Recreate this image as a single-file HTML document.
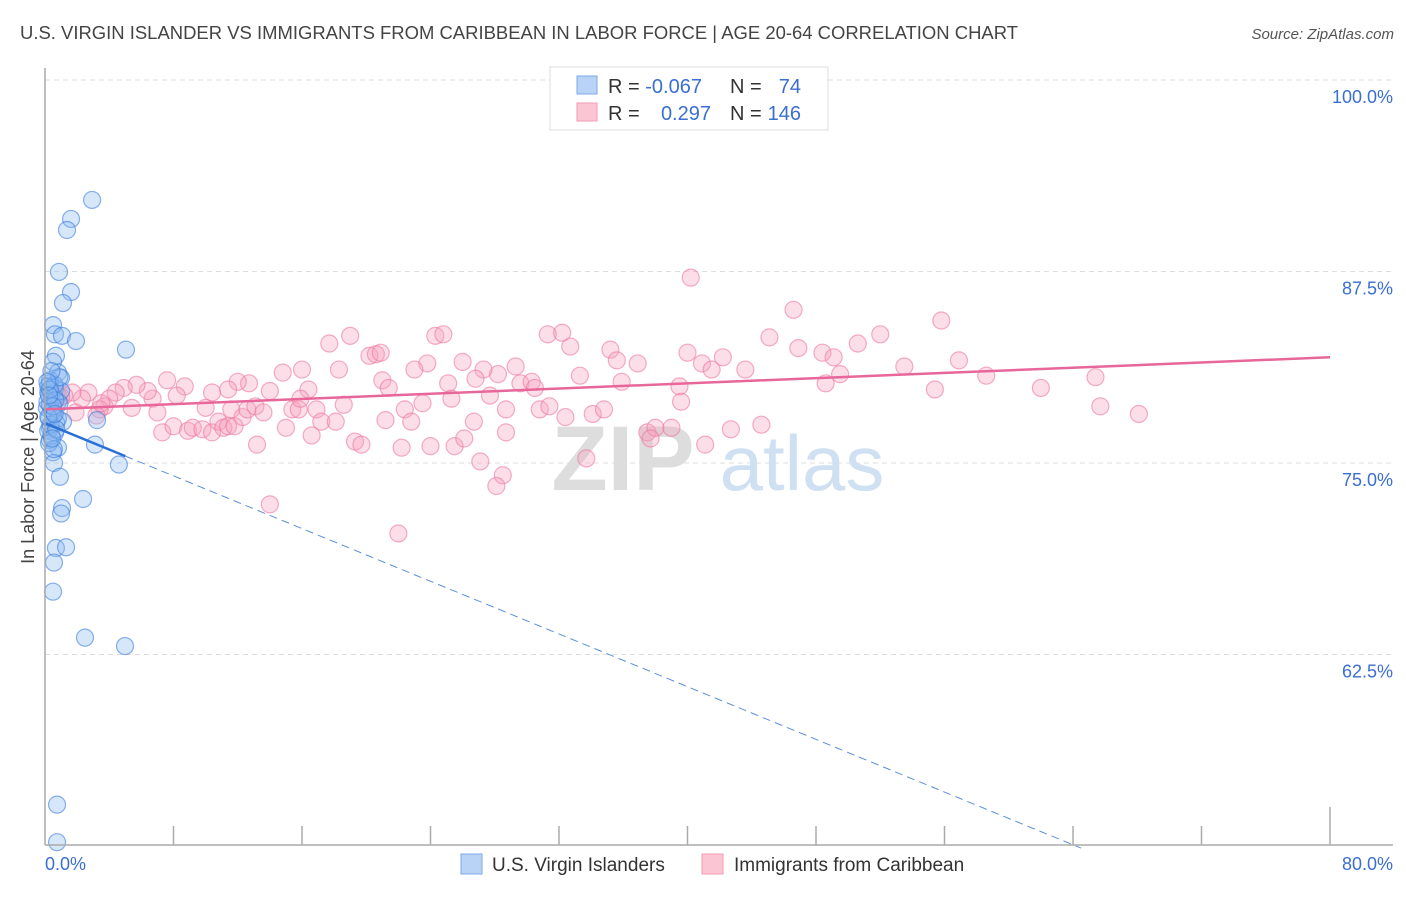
<!DOCTYPE html>
<html><head><meta charset="utf-8"><style>
body{margin:0;background:#fff;font-family:"Liberation Sans",sans-serif;}
svg text{font-family:"Liberation Sans",sans-serif;}
</style></head><body>
<svg id="chart" width="1406" height="892" xmlns="http://www.w3.org/2000/svg">
<text x="20" y="39" font-size="18" fill="#444" textLength="998" lengthAdjust="spacingAndGlyphs">U.S. VIRGIN ISLANDER VS IMMIGRANTS FROM CARIBBEAN IN LABOR FORCE | AGE 20-64 CORRELATION CHART</text>
<text x="1394" y="39" font-size="15" fill="#555" text-anchor="end" font-style="italic">Source: ZipAtlas.com</text>
<g id="grid"></g>
<g id="watermark">
<text x="623" y="490" font-size="92" fill="#ddd" font-family="Liberation Serif" text-anchor="middle" font-weight="bold">ZIP</text>
<text x="802" y="490" font-size="78" fill="#cfe0f3" text-anchor="middle">atlas</text>
</g>
<g id="pts"></g>
<g id="trend"></g>
<g id="axes"></g>
<text transform="translate(34,457) rotate(-90)" font-size="18" fill="#444" text-anchor="middle">In Labor Force | Age 20-64</text>
<g>
<rect x="550" y="67" width="278" height="63" fill="#fff" stroke="#ddd"/>
<rect x="577" y="76" width="20" height="18" fill="#b8d3f5" stroke="#7fa9e6"/>
<rect x="577" y="103" width="20" height="18" fill="#fbc5d4" stroke="#f39ab5"/>
<text x="608" y="93" font-size="20" fill="#333">R = <tspan fill="#3a6fd1">-0.067</tspan></text>
<text x="730" y="93" font-size="20" fill="#333">N = </text><text x="801" y="93" font-size="20" fill="#3a6fd1" text-anchor="end">74</text>
<text x="608" y="120" font-size="20" fill="#333">R = </text><text x="711" y="120" font-size="20" fill="#3a6fd1" text-anchor="end">0.297</text>
<text x="730" y="120" font-size="20" fill="#333">N = </text><text x="801" y="120" font-size="20" fill="#3a6fd1" text-anchor="end">146</text>
</g>
<g>
<rect x="461" y="854" width="21" height="20" fill="#b8d3f5" stroke="#7fa9e6"/>
<text x="492" y="871" font-size="19" fill="#333">U.S. Virgin Islanders</text>
<rect x="702" y="854" width="21" height="20" fill="#fbc5d4" stroke="#f39ab5"/>
<text x="734" y="871" font-size="19" fill="#333">Immigrants from Caribbean</text>
</g>
</svg>
<script>
const blueX=[2.93,1.62,1.37,0.87,1.62,1.12,0.5,0.62,1.06,1.93,5.04,0.68,0.5,0.81,1.0,0.3,0.62,0.2,0.44,0.81,0.12,0.5,0.25,1.12,3.24,0.3,0.62,0.3,3.11,0.81,0.5,0.56,4.6,0.93,2.37,1.06,1.0,0.68,1.31,0.56,0.5,2.49,4.98,0.75,0.75,0.2,0.4,0.6,0.9,0.3,0.5,0.7,0.2,0.4,1.0,0.3,0.6,0.15,0.45,0.8,0.25,0.55,0.35,0.2,0.65,0.9,0.4,0.3,0.5,0.15,0.7,0.45,0.25,0.6];
const blueY=[92.17,90.93,90.21,87.47,86.16,85.44,84.0,83.4,83.3,82.96,82.4,82.0,81.6,80.9,80.55,80.2,79.9,79.6,79.2,79.0,78.6,78.3,77.9,77.7,77.8,77.3,76.95,76.5,76.2,76.0,75.7,75.0,74.9,74.1,72.65,72.06,71.7,69.45,69.5,68.5,66.6,63.6,63.05,52.7,50.25,80.0,79.5,79.3,78.9,78.8,78.1,77.6,77.1,76.8,79.7,80.4,80.1,79.0,78.4,77.9,76.3,75.9,77.5,78.0,79.1,80.6,81.0,79.8,78.7,80.3,77.2,76.6,79.4,78.2];
const pinkX=[40.2,46.6,55.8,19.0,24.3,24.8,31.3,32.2,32.7,45.1,52.0,50.6,40.0,46.9,48.4,49.1,35.2,35.6,36.9,42.2,40.9,41.5,43.6,56.9,53.5,58.6,65.4,62.0,65.7,68.1,55.4,48.6,49.5,39.5,39.6,33.3,35.9,29.3,29.6,30.3,30.5,28.2,27.3,26.8,26.0,25.1,23.8,23.0,21.0,21.4,20.2,20.6,20.9,18.3,17.7,16.4,16.0,14.8,14.0,12.7,12.0,11.4,10.4,10.0,8.7,8.2,7.6,6.7,6.4,5.7,4.9,4.4,4.0,3.7,3.4,3.2,2.7,2.3,1.7,1.2,0.8,1.9,3.5,5.4,7.0,7.3,8.0,8.9,9.2,9.8,10.4,10.8,11.1,11.4,11.8,11.6,12.3,12.6,13.1,13.6,13.2,15.0,15.4,15.8,15.9,16.9,17.2,16.6,18.1,18.6,19.3,19.7,21.2,22.2,22.4,22.8,23.5,24.0,25.5,26.1,25.3,26.7,27.1,27.7,28.5,28.1,28.7,28.7,30.8,31.4,32.4,34.1,34.8,33.7,37.5,38.0,37.7,39.0,41.1,42.7,44.6,14.0,22.0,0.5,1.0,0.3];
const pinkY=[87.1,85.0,84.3,83.3,83.3,83.4,83.4,83.5,82.6,83.2,83.4,82.8,82.2,82.5,82.2,81.9,82.4,81.7,81.5,81.9,81.5,81.1,81.1,81.7,81.3,80.7,80.6,79.9,78.7,78.2,79.8,80.2,80.8,80.0,79.0,80.7,80.3,81.3,80.2,80.3,79.9,80.8,81.1,80.5,81.6,80.2,81.5,81.1,80.4,79.9,82.0,82.1,82.2,81.1,82.8,79.8,81.1,80.9,79.7,80.2,80.3,79.8,79.6,78.6,80.0,79.4,80.4,79.2,79.7,80.1,79.9,79.6,79.2,78.7,78.5,78.1,79.6,79.2,79.6,79.4,79.4,78.3,78.9,78.6,78.3,77.0,77.4,77.1,77.3,77.2,77.0,77.7,77.3,77.4,77.4,78.5,78.0,78.5,78.7,78.3,76.2,77.3,78.5,78.5,79.2,78.5,77.7,76.8,77.7,78.8,76.4,76.2,77.8,76.0,78.5,77.7,78.9,76.1,76.1,76.6,79.2,77.7,75.1,79.4,74.2,73.5,78.5,77.0,78.5,78.7,78.0,78.2,78.5,75.3,77.0,77.3,76.6,77.3,76.2,77.2,77.5,72.3,70.4,79.0,79.3,78.8];
const yTicks=[100,87.5,75,62.5];
const yTickLabels=["100.0%","87.5%","75.0%","62.5%"];
const xTicks=[8,16,24,32,40,48,56,64,72,80];
const xTickLabels=["0.0%","80.0%"];
const pinkTrend=[78.5,0.0425];
const blueTrend=[77.6,-0.43];
const blueSolidEnd=5, blueDashEnd=64.5;

const NS="http://www.w3.org/2000/svg";
const X=v=>45+v/80*1285;
const Y=v=>80+(100-v)/12.5*191.5;
function mk(tag,attrs,parent){const e=document.createElementNS(NS,tag);for(const k in attrs)e.setAttribute(k,attrs[k]);parent.appendChild(e);return e;}
const grid=document.getElementById('grid'),axes=document.getElementById('axes'),pts=document.getElementById('pts'),trend=document.getElementById('trend');
yTicks.forEach((t,i)=>{
 const l=mk('line',{x1:45,x2:1393,y1:Y(t),y2:Y(t),stroke:'#ddd','stroke-dasharray':'5,4'},grid);
 
 
 const tx=mk('text',{x:1393,y:Y(t)+23,'font-size':18,fill:'#3a6fd1','text-anchor':'end'},grid);
 tx.textContent=yTickLabels[i];
 
 
});
const ya=mk('line',{x1:45,x2:45,y1:68,y2:845,stroke:'#aaa','stroke-width':1.5},axes);


const xa=mk('line',{x1:45,x2:1393,y1:845,y2:845,stroke:'#aaa','stroke-width':1.5},axes);


xTicks.forEach(t=>{
 const l=mk('line',{x1:X(t),x2:X(t),y1:t===80?807:826,y2:845,stroke:'#aaa','stroke-width':1.5},axes);
 
 
});
[[0,'start',45],[80,'end',1393]].forEach((d,i)=>{
 const tx=mk('text',{x:d[2],y:870,'font-size':18,fill:'#3a6fd1','text-anchor':d[1]},axes);
 tx.textContent=xTickLabels[i];
 
 
});
pinkX.forEach((v,i)=>{
 const c=mk('circle',{cx:X(v),cy:Y(pinkY[i]),r:8.5,fill:'rgba(246,160,188,0.35)',stroke:'rgba(236,120,160,0.6)','stroke-width':1.2},pts);
 
 
});
blueX.forEach((v,i)=>{
 const c=mk('circle',{cx:X(v),cy:Y(blueY[i]),r:8.5,fill:'rgba(140,185,240,0.35)',stroke:'rgba(60,125,220,0.6)','stroke-width':1.2},pts);
 
 
});
const pt=mk('line',{x1:X(0),y1:Y(pinkTrend[0]),x2:X(80),y2:Y(pinkTrend[0]+pinkTrend[1]*80),stroke:'#e8679a','stroke-width':2.5},trend);


const bs=mk('line',{x1:X(0),y1:Y(blueTrend[0]),x2:X(blueSolidEnd),y2:Y(blueTrend[0]+blueTrend[1]*blueSolidEnd),stroke:'#2a6fd6','stroke-width':2.5},trend);


const bd=mk('line',{x1:X(blueSolidEnd),y1:Y(blueTrend[0]+blueTrend[1]*blueSolidEnd),x2:X(blueDashEnd),y2:Y(blueTrend[0]+blueTrend[1]*blueDashEnd),stroke:'#5a8fdc','stroke-width':1,'stroke-dasharray':'8,5'},trend);


</script>
</body></html>
